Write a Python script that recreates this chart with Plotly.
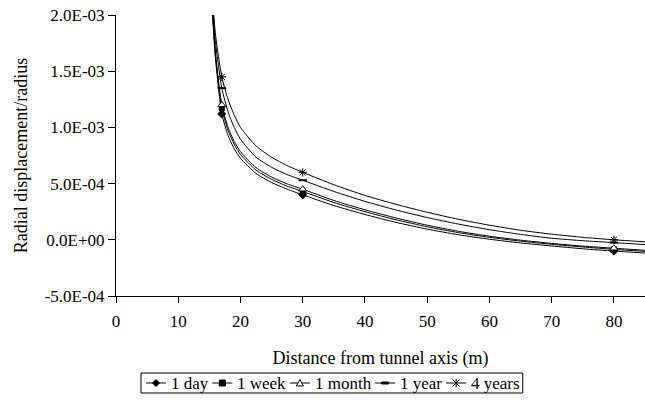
import plotly.graph_objects as go

# distance from tunnel axis (m) for the smoothed curves
x_line = [15.3, 16, 17, 18, 19, 20, 22.5, 25, 27.5, 30, 35, 40, 45, 50, 55, 60, 65, 70, 75, 80, 85]
# positions where markers are drawn
x_marker = [17, 30, 80]

series_names = ["1 day", "1 week", "1 month", "1 year", "4 years"]

day = [2.2e-3, 1.6e-3, 1.12e-3, 9.3e-4, 8.1e-4, 7.25e-4, 5.9e-4, 5.1e-4, 4.5e-4, 4.0e-4,
       3.05e-4, 2.25e-4, 1.55e-4, 9.5e-5, 4.5e-5, 5e-6, -2.8e-5, -5.5e-5, -8e-5, -1.0e-4, -1.18e-4]
week = [2.2e-3, 1.63e-3, 1.17e-3, 9.75e-4, 8.5e-4, 7.6e-4, 6.2e-4, 5.38e-4, 4.77e-4, 4.3e-4,
        3.32e-4, 2.5e-4, 1.78e-4, 1.16e-4, 6.4e-5, 2.2e-5, -1.2e-5, -4e-5, -6.4e-5, -8.5e-5, -1.03e-4]
month = [2.2e-3, 1.65e-3, 1.2e-3, 1.0e-3, 8.75e-4, 7.85e-4, 6.42e-4, 5.58e-4, 4.97e-4, 4.5e-4,
         3.5e-4, 2.67e-4, 1.94e-4, 1.3e-4, 7.6e-5, 3.2e-5, -3e-6, -3.2e-5, -5.6e-5, -7.5e-5, -9.3e-5]
year1 = [2.25e-3, 1.75e-3, 1.35e-3, 1.14e-3, 1.0e-3, 8.95e-4, 7.35e-4, 6.45e-4, 5.8e-4, 5.3e-4,
         4.3e-4, 3.42e-4, 2.65e-4, 1.98e-4, 1.4e-4, 9e-5, 4.8e-5, 1.4e-5, -8e-6, -2.5e-5, -4.2e-5]
year4 = [2.3e-3, 1.82e-3, 1.45e-3, 1.25e-3, 1.11e-3, 1.0e-3, 8.35e-4, 7.35e-4, 6.6e-4, 6.0e-4,
         4.9e-4, 3.95e-4, 3.15e-4, 2.45e-4, 1.83e-4, 1.3e-4, 8.5e-5, 5.0e-5, 2.2e-5, 0.0, -1.8e-5]

y_tick_vals = [-5e-4, 0, 5e-4, 1e-3, 1.5e-3, 2e-3]
y_tick_text = ["-5.0E-04", "0.0E+00", "5.0E-04", "1.0E-03", "1.5E-03", "2.0E-03"]
x_tick_vals = [0, 10, 20, 30, 40, 50, 60, 70, 80]

all_series = [day, week, month, year1, year4]
marker_styles = [
    dict(symbol="diamond", size=7, color="black"),
    dict(symbol="square", size=6, color="black"),
    dict(symbol="triangle-up", size=7, color="white", line=dict(color="black", width=1)),
    dict(symbol="line-ew", size=6, color="black", line=dict(color="black", width=2)),
    dict(symbol="asterisk-open", size=7, color="black", line=dict(color="black", width=1)),
]
# legend sample glyphs (pixel paths around the anchor), fill colour
legend_glyphs = [
    ("M -3.5 0 L 0 3.5 L 3.5 0 L 0 -3.5 Z", "black"),
    ("M -3 -3 L 3 -3 L 3 3 L -3 3 Z", "black"),
    ("M -3.5 -3 L 3.5 -3 L 0 3.5 Z", "white"),
    ("M -3.5 -1 L 3.5 -1 L 3.5 1 L -3.5 1 Z", "black"),
    ("M -3.5 -3.5 L 3.5 3.5 M -3.5 3.5 L 3.5 -3.5 M 0 -4 L 0 4", None),
]

FONT = "Liberation Serif"
FS = 18
TFS = 17
LFS = 17
W, H = 645, 405
ML, MR, MT, MB = 116, 0, 15, 109
PW, PH = W - ML - MR, H - MT - MB


def px_x(px):
    return (px - ML) / PW


def px_y(py):
    return (H - MB - py) / PH


# Times / Liberation Serif advance widths (per 1000 em)
ADV = {"1": 500, "4": 500, " ": 250, "d": 500, "a": 444, "y": 500, "w": 722, "e": 444,
       "k": 500, "m": 778, "o": 500, "n": 500, "t": 278, "h": 500, "r": 333, "s": 389}

fig = go.Figure()
for name, vals, ms in zip(series_names, all_series, marker_styles):
    fig.add_trace(go.Scatter(x=x_line, y=vals, mode="lines", name=name,
                             line=dict(color="black", width=1, shape="spline", smoothing=0.6),
                             showlegend=False, hoverinfo="skip"))
    idx = [x_line.index(m) for m in x_marker]
    fig.add_trace(go.Scatter(x=[x_line[i] for i in idx], y=[vals[i] for i in idx],
                             mode="markers", marker=ms, name=name, showlegend=False,
                             cliponaxis=False))

# custom compact legend (Excel style)
shapes = []
annotations = []
box_l, box_t, box_b = 141, 373, 393
yc = (box_t + box_b) / 2
cur = box_l + 5
for name, (path, fill) in zip(series_names, legend_glyphs):
    shapes.append(dict(type="line", xref="paper", yref="paper",
                       x0=px_x(cur), x1=px_x(cur + 20), y0=px_y(yc), y1=px_y(yc),
                       line=dict(color="black", width=1)))
    g = dict(type="path", xref="paper", yref="paper", xsizemode="pixel", ysizemode="pixel",
             xanchor=px_x(cur + 10), yanchor=px_y(yc), path=path,
             line=dict(color="black", width=1))
    if fill:
        g["fillcolor"] = fill
    shapes.append(g)
    annotations.append(dict(text=name, xref="paper", yref="paper", x=px_x(cur + 23),
                            y=px_y(yc + 0.5), xanchor="left", yanchor="middle", showarrow=False,
                            font=dict(family=FONT, size=LFS, color="black")))
    tw = sum(ADV.get(c, 500) for c in name) * LFS / 1000
    cur = cur + 23 + tw + 6
box_r = cur - 6 + 5
shapes.insert(0, dict(type="rect", xref="paper", yref="paper",
                      x0=px_x(box_l), x1=px_x(box_r), y0=px_y(box_b), y1=px_y(box_t),
                      line=dict(color="black", width=1), fillcolor="white", layer="below"))

fig.update_layout(
    width=W, height=H,
    margin=dict(l=ML, r=MR, t=MT, b=MB),
    paper_bgcolor="white", plot_bgcolor="white",
    font=dict(family=FONT, size=FS, color="black"),
    showlegend=False,
    shapes=shapes, annotations=annotations,
    xaxis=dict(range=[0, 85], tickvals=x_tick_vals, ticks="outside", ticklen=6,
               ticklabelstandoff=4,
               tickcolor="black", showline=True, linecolor="black", linewidth=1,
               showgrid=False, zeroline=False, tickfont=dict(family=FONT, size=TFS),
               title=dict(text="Distance from tunnel axis (m)", standoff=20,
                          font=dict(family=FONT, size=FS))),
    yaxis=dict(range=[-5e-4, 2e-3], tickvals=y_tick_vals, ticktext=y_tick_text,
               ticks="outside", ticklen=7, ticklabelstandoff=0,
               tickcolor="black", showline=True,
               linecolor="black", linewidth=1, showgrid=False, zeroline=False,
               tickfont=dict(family=FONT, size=TFS),
               title=dict(text="Radial displacement/radius", standoff=12,
                          font=dict(family=FONT, size=FS))),
)

fig.write_html("out.html", config={"displayModeBar": False},
               post_script="document.body.style.margin='0';document.body.style.padding='0';")
